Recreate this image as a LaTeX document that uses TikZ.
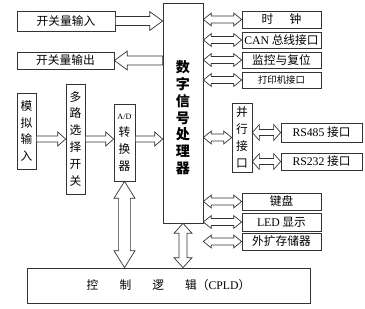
\documentclass[tikz,border=0pt]{standalone}
\usepackage{fontspec}
\setmainfont{Liberation Serif}
\newfontfamily\cjk{Noto Sans CJK SC}
\usetikzlibrary{calc}

\begin{document}
\begin{tikzpicture}[x=0.03cm, y=-0.03cm, line width=0.6pt,
  box/.style={draw=black!80, inner sep=0pt, align=center, font=\cjk\fontsize{10}{14.5}\selectfont},
  onearrow/.style n args={3}{draw=black!80, fill=white, to path={let \p1=(\tikztostart), \p2=(\tikztotarget), \p3=($(\p2)!#1!(\p1)$) in
    ($(\p1)!#3!90:(\p2)$) -- ($(\p3)!#3!90:(\p2)$) -- ($(\p3)!#2!90:(\p2)$) -- (\p2) -- ($(\p3)!#2!-90:(\p2)$) -- ($(\p3)!#3!-90:(\p2)$) -- ($(\p1)!#3!-90:(\p2)$) -- cycle}},
  twoarrow/.style n args={3}{draw=black!80, fill=white, to path={let \p1=(\tikztostart), \p2=(\tikztotarget), \p3=($(\p2)!#1!(\p1)$), \p4=($(\p1)!#1!(\p2)$) in
    (\p1) -- ($(\p4)!#2!90:(\p2)$) -- ($(\p4)!#3!90:(\p2)$) -- ($(\p3)!#3!90:(\p2)$) -- ($(\p3)!#2!90:(\p2)$) -- (\p2) -- ($(\p3)!#2!-90:(\p2)$) -- ($(\p3)!#3!-90:(\p2)$) -- ($(\p4)!#3!-90:(\p2)$) -- ($(\p4)!#2!-90:(\p2)$) -- cycle}}]
  \useasboundingbox (0,0) rectangle (365,309);
  \node[box, minimum width=2.94cm, minimum height=0.6cm] (in) at (66,21) {开关量输入};
  \node[box, minimum width=2.91cm, minimum height=0.51cm] (out) at (65.5,60.5) {开关量输出};
  \node[box, minimum width=1.2cm, minimum height=6.6cm, label={[align=center, yshift=-4pt, font=\cjk\bfseries\fontsize{12}{14.3}\selectfont]center:数\\字\\信\\号\\处\\理\\器}] (dsp) at (183,113) {};
  \node[box, minimum width=2.37cm, minimum height=0.51cm] (clk) at (281.5,19.5) {时\hspace{1.4em}钟};
  \node[box, minimum width=2.37cm, minimum height=0.48cm] (can) at (281.5,40) {{\rmfamily CAN} 总线接口};
  \node[box, minimum width=2.37cm, minimum height=0.48cm] (mon) at (281.5,60) {监控与复位};
  \node[box, minimum width=2.37cm, minimum height=0.48cm, font=\cjk\fontsize{8}{10}\selectfont] (prt) at (281.5,80) {打印机接口};
  \node[box, minimum width=0.57cm, minimum height=2.28cm] (sim) at (26.5,131) {模\\拟\\输\\入};
  \node[box, minimum width=0.57cm, minimum height=3.3cm] (mux) at (75.5,139) {多\\路\\选\\择\\开\\关};
  \node[box, minimum width=0.63cm, minimum height=2.31cm] (adc) at (124.5,142.5) {{\rmfamily\fontsize{7}{9}\selectfont A/D}\\转\\换\\器};
  \node[box, minimum width=0.6cm, minimum height=2.07cm] (par) at (242,137.5) {并\\行\\接\\口};
  \node[box, minimum width=2.43cm, minimum height=0.57cm] (rs485) at (321.5,132.5) {{\rmfamily RS485} 接口};
  \node[box, minimum width=2.43cm, minimum height=0.51cm] (rs232) at (321.5,161.5) {{\rmfamily RS232} 接口};
  \node[box, minimum width=2.37cm, minimum height=0.51cm] (kbd) at (281.5,201.5) {键盘};
  \node[box, minimum width=2.37cm, minimum height=0.54cm] (led) at (281.5,222) {{\rmfamily LED} 显示};
  \node[box, minimum width=2.37cm, minimum height=0.51cm] (mem) at (281.5,241.5) {外扩存储器};
  \node[box, minimum width=8.49cm, minimum height=1.05cm] (cpld) at (168.5,285.5) {控\hspace{1.8em}制\hspace{1.8em}逻\hspace{1.8em}辑（{\rmfamily CPLD}）};
  \draw[onearrow={11pt}{8pt}{3.8pt}] (in.east) to (dsp.west|-in.east);
  \draw[onearrow={11pt}{8pt}{3.8pt}] (dsp.west|-out.east) to (out.east);
  \draw[onearrow={6.8pt}{6pt}{2.6pt}] (sim.east|-mux) to (mux.west);
  \draw[onearrow={6.8pt}{6pt}{2.6pt}] (mux.east) to (adc.west|-mux);
  \draw[onearrow={6.8pt}{6pt}{2.6pt}] (adc.east|-mux) to (dsp.west|-mux);
  \foreach \dev in {clk,can,mon,prt,par,kbd,led,mem}
    \draw[twoarrow={6.8pt}{5.5pt}{3pt}] (dsp.east|-\dev) to (\dev.west);
  \draw[twoarrow={6pt}{6.8pt}{2.6pt}] (par.east|-rs485) to (rs485.west);
  \draw[twoarrow={6pt}{6.8pt}{2.6pt}] (par.east|-rs232) to (rs232.west);
  \draw[twoarrow={14.5pt}{9pt}{5pt}] (adc.south) to (adc.south|-cpld.north);
  \draw[twoarrow={8.5pt}{7.7pt}{3.4pt}] (dsp.south) to (dsp.south|-cpld.north);
\end{tikzpicture}
\end{document}
